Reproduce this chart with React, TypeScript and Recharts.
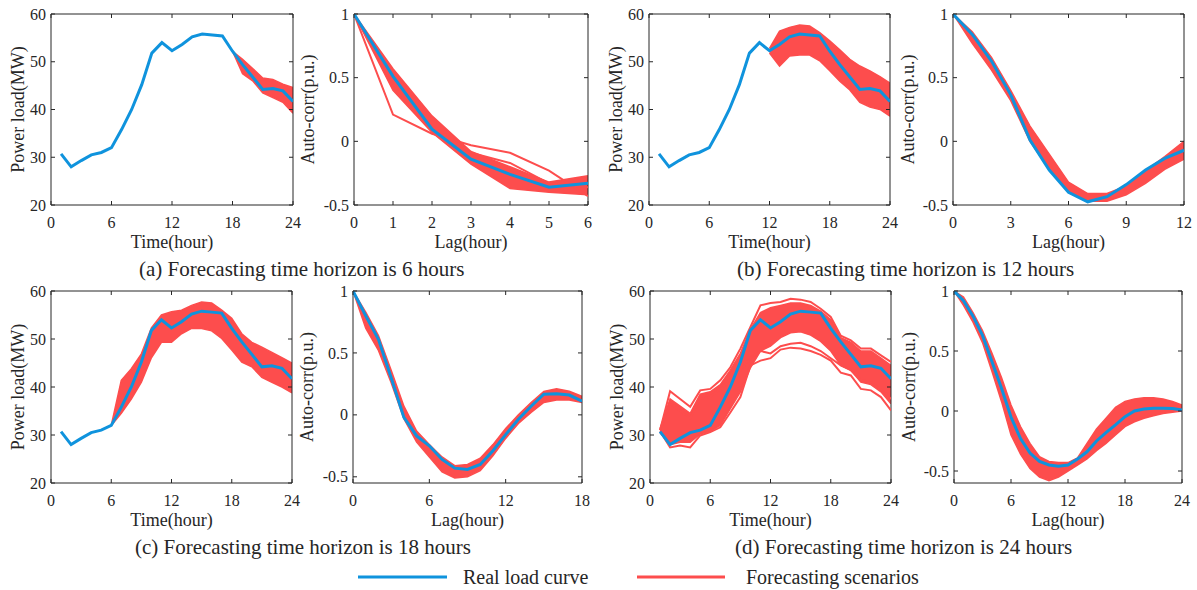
import React from "react"
import { ComposedChart, Line, Area, XAxis, YAxis, ReferenceArea } from "recharts"

const BLUE = "#0f93dd"
const RED = "#fd4d4d"
const INK = "#262626"
const FONT = '"Liberation Serif", "Times New Roman", serif'

// x values
const HOURS = [1, 2, 3, 4, 5, 6, 7, 8, 9, 10, 11, 12, 13, 14, 15, 16, 17, 18, 19, 20, 21, 22, 23, 24]
const LAGS_6 = [0, 1, 2, 3, 4, 5, 6]
const LAGS_12 = [0, 1, 2, 3, 4, 5, 6, 7, 8, 9, 10, 11, 12]
const LAGS_18 = [0, 1, 2, 3, 4, 5, 6, 7, 8, 9, 10, 11, 12, 13, 14, 15, 16, 17, 18]
const LAGS_24 = [0, 1, 2, 3, 4, 5, 6, 7, 8, 9, 10, 11, 12, 13, 14, 15, 16, 17, 18, 19, 20, 21, 22, 23, 24]

// tick labels
const TIME_TICKS = [0, 6, 12, 18, 24]
const LOAD_TICKS = [20, 30, 40, 50, 60]
const ACF_TICKS = [-0.5, 0, 0.5, 1]
const LAG_TICKS_6 = [0, 1, 2, 3, 4, 5, 6]
const LAG_TICKS_12 = [0, 3, 6, 9, 12]
const LAG_TICKS_18 = [0, 6, 12, 18]
const LAG_TICKS_24 = [0, 6, 12, 18, 24]

// real load curve (MW), hours 1..24
const REAL_LOAD = [30.7, 28.0, 29.3, 30.5, 31.0, 32.0, 35.8, 40.0, 45.2, 51.8, 54.0, 52.3, 53.6, 55.2, 55.8, 55.6, 55.4, 52.2, 49.4, 46.8, 44.2, 44.4, 43.9, 41.7]

// scenario envelopes, starting at the first forecast hour
const LOAD_LO_6 = [52.2, 47.5, 46.0, 43.5, 42.5, 41.5, 39.2] // from h18
const LOAD_HI_6 = [52.2, 50.5, 48.6, 46.6, 46.3, 45.3, 44.6]
const LOAD_LO_12 = [51.8, 49.1, 51.2, 51.4, 51.4, 50.2, 48.1, 45.9, 44.1, 41.5, 40.5, 40.0, 38.6] // from h12
const LOAD_HI_12 = [52.8, 56.4, 57.2, 57.7, 57.5, 56.1, 54.4, 52.5, 50.5, 49.1, 48.1, 46.9, 45.5]
const LOAD_LO_18 = [32.0, 34.5, 37.5, 41.0, 46.1, 49.3, 49.3, 51.1, 52.2, 52.2, 51.7, 50.1, 47.7, 45.2, 44.2, 42.0, 41.0, 40.0, 38.8] // from h6
const LOAD_HI_18 = [32.0, 41.4, 43.8, 46.9, 52.3, 55.0, 55.7, 56.0, 57.0, 57.7, 57.5, 56.0, 54.3, 51.1, 49.3, 48.3, 47.2, 46.1, 45.0]
const LOAD_LO_24 = [30.5, 28.0, 28.5, 28.5, 30.2, 30.8, 32.0, 35.5, 39.0, 44.0, 47.5, 48.5, 50.3, 51.3, 51.5, 50.8, 49.5, 47.5, 44.5, 43.5, 41.0, 40.5, 39.0, 36.5] // from h1
const LOAD_HI_24 = [31.3, 37.5, 36.0, 34.5, 38.5, 39.0, 40.5, 43.5, 47.0, 52.0, 55.5, 56.5, 57.0, 57.5, 57.5, 57.0, 55.8, 54.0, 50.3, 49.3, 47.5, 47.5, 46.0, 44.5]
// individual scenarios outside the dense band (24 h horizon)
const LOAD_OUT_24A = [31.0, 39.1, 37.5, 35.9, 39.3, 39.6, 41.4, 44.1, 48.0, 52.5, 57.0, 57.5, 57.7, 58.4, 58.2, 57.7, 56.3, 54.6, 50.7, 49.7, 48.0, 48.0, 46.6, 45.2]
const LOAD_OUT_24B = [30.8, 27.4, 27.8, 27.4, 29.9, 30.6, 31.6, 34.7, 37.9, 44.5, 45.5, 46.0, 47.8, 48.2, 48.0, 47.5, 46.7, 45.5, 43.0, 42.4, 39.6, 39.3, 37.9, 35.1]
const LOAD_OUT_24C = [31.0, 36.5, 35.0, 33.5, 37.5, 38.0, 39.5, 41.5, 43.5, 46.0, 47.5, 47.0, 48.5, 49.0, 49.2, 48.5, 47.5, 46.0, 44.5, 43.5, 41.5, 41.0, 39.5, 37.5]

// auto-correlation (p.u.)
const ACF_REAL_6 = [1, 0.51, 0.095, -0.14, -0.26, -0.36, -0.33]
const ACF_LO_6 = [1, 0.4, 0.07, -0.18, -0.37, -0.4, -0.42]
const ACF_HI_6 = [1, 0.57, 0.2, -0.08, -0.2, -0.32, -0.27]
const ACF_OUT_6A = [1, 0.21, 0.06, -0.03, -0.09, -0.23, -0.43]
const ACF_OUT_6B = [1, 0.45, 0.12, -0.09, -0.17, -0.33, -0.36]

const ACF_REAL_12 = [1, 0.84, 0.63, 0.365, 0.01, -0.225, -0.4, -0.475, -0.435, -0.34, -0.225, -0.134, -0.07]
const ACF_LO_12 = [1, 0.77, 0.56, 0.32, 0.0, -0.22, -0.4, -0.47, -0.47, -0.42, -0.33, -0.22, -0.14]
const ACF_HI_12 = [1, 0.86, 0.66, 0.4, 0.12, -0.1, -0.32, -0.41, -0.41, -0.35, -0.23, -0.12, 0.0]

const ACF_REAL_18 = [1, 0.8, 0.61, 0.3, -0.02, -0.17, -0.25, -0.36, -0.43, -0.44, -0.4, -0.29, -0.16, -0.035, 0.07, 0.167, 0.17, 0.16, 0.11]
const ACF_LO_18 = [1, 0.7, 0.52, 0.26, -0.03, -0.22, -0.34, -0.46, -0.51, -0.5, -0.45, -0.33, -0.19, -0.07, 0.02, 0.1, 0.12, 0.12, 0.1]
const ACF_HI_18 = [1, 0.83, 0.64, 0.36, 0.07, -0.13, -0.24, -0.34, -0.41, -0.4, -0.35, -0.24, -0.11, 0.0, 0.1, 0.19, 0.21, 0.19, 0.15]

const ACF_REAL_24 = [1, 0.92, 0.79, 0.63, 0.41, 0.19, -0.05, -0.23, -0.35, -0.42, -0.45, -0.46, -0.45, -0.4, -0.34, -0.25, -0.18, -0.115, -0.047, 0.0, 0.017, 0.022, 0.022, 0.02, 0.008]
const ACF_LO_24 = [1, 0.88, 0.74, 0.57, 0.33, 0.08, -0.2, -0.36, -0.48, -0.55, -0.58, -0.55, -0.5, -0.45, -0.4, -0.33, -0.27, -0.2, -0.13, -0.09, -0.06, -0.04, -0.02, -0.01, 0.0]
const ACF_HI_24 = [1, 0.95, 0.82, 0.67, 0.48, 0.28, 0.05, -0.13, -0.27, -0.38, -0.42, -0.43, -0.43, -0.39, -0.27, -0.15, -0.06, 0.03, 0.08, 0.1, 0.11, 0.11, 0.1, 0.08, 0.05]

type Row = { x: number; real: number; band?: [number, number]; [k: string]: any }

function buildRows(xs: number[], real: number[], start: number, lo: number[], hi: number[], extras: number[][] = []): Row[] {
  return xs.map((x, i) => {
    const row: Row = { x, real: real[i] }
    const j = x - start
    if (j >= 0 && j < lo.length) row.band = [lo[j], hi[j]]
    extras.forEach((s, k) => {
      if (j >= 0 && j < s.length) row["s" + k] = s[j]
    })
    return row
  })
}

const ML = 50
const MT = 10
const MR = 12
const MB = 40

interface Rect { l: number; t: number; r: number; b: number }

interface PanelProps {
  rect: Rect
  rows: Row[]
  xDomain: [number, number]
  xTicks: number[]
  yDomain: [number, number]
  yTicks: number[]
  extras?: number
}

function Panel({ rect, rows, xDomain, xTicks, yDomain, yTicks, extras = 0 }: PanelProps) {
  const pw = rect.r - rect.l
  const ph = rect.b - rect.t
  const width = pw + ML + MR
  const height = ph + MT + MB
  const top = MT
  const bottom = MT + ph
  const left = ML
  const right = ML + pw

  const xTick = (p: any) => (
    <g>
      <line x1={p.x} x2={p.x} y1={bottom} y2={bottom - 4} stroke={INK} />
      <line x1={p.x} x2={p.x} y1={top} y2={top + 4} stroke={INK} />
      <text x={p.x} y={bottom + 17} dy="0.35em" textAnchor="middle" fill={INK} fontSize={16} fontFamily={FONT}>
        {p.payload.value}
      </text>
    </g>
  )
  const yTick = (p: any) => (
    <g>
      <line x1={left} x2={left + 4} y1={p.y} y2={p.y} stroke={INK} />
      <line x1={right - 4} x2={right} y1={p.y} y2={p.y} stroke={INK} />
      <text x={left - 5} y={p.y} dy="0.35em" textAnchor="end" fill={INK} fontSize={16} fontFamily={FONT}>
        {String(p.payload.value)}
      </text>
    </g>
  )

  return (
    <div style={{ position: "absolute", left: rect.l - ML, top: rect.t - MT }}>
      <ComposedChart width={width} height={height} data={rows} margin={{ top: MT, right: MR, bottom: 0, left: 0 }}>
        <XAxis type="number" dataKey="x" domain={xDomain} ticks={xTicks} interval={0} height={MB}
          axisLine={false} tickLine={false} tick={xTick} allowDataOverflow />
        <YAxis type="number" domain={yDomain} ticks={yTicks} interval={0} width={ML}
          axisLine={false} tickLine={false} tick={yTick} allowDataOverflow />
        <Area type="linear" dataKey="band" stroke={RED} strokeWidth={1.5} fill={RED} fillOpacity={1}
          isAnimationActive={false} connectNulls={false} />
        {Array.from({ length: extras }, (_, k) => (
          <Line key={k} type="linear" dataKey={"s" + k} stroke={RED} strokeWidth={2} dot={false}
            isAnimationActive={false} />
        ))}
        <Line type="linear" dataKey="real" stroke={BLUE} strokeWidth={3} dot={false} isAnimationActive={false} />
        <ReferenceArea x1={xDomain[0]} x2={xDomain[1]} y1={yDomain[0]} y2={yDomain[1]}
          fill="none" fillOpacity={0} stroke={INK} strokeWidth={1} ifOverflow="visible" />
      </ComposedChart>
    </div>
  )
}

const ROW1 = { t: 14, b: 205 }
const ROW2 = { t: 291, b: 483 }

const P1: Rect = { l: 51, r: 293, ...ROW1 }
const P2: Rect = { l: 354, r: 588, ...ROW1 }
const P3: Rect = { l: 649, r: 890, ...ROW1 }
const P4: Rect = { l: 953, r: 1184, ...ROW1 }
const P5: Rect = { l: 51, r: 292, ...ROW2 }
const P6: Rect = { l: 353, r: 582, ...ROW2 }
const P7: Rect = { l: 650, r: 891, ...ROW2 }
const P8: Rect = { l: 954, r: 1182, ...ROW2 }

function YTitle({ rect, dx, text }: { rect: Rect; dx: number; text: string }) {
  const cx = rect.l - dx
  const cy = (rect.t + rect.b) / 2
  return (
    <text x={cx} y={cy} dy="0.35em" textAnchor="middle" transform={`rotate(-90 ${cx} ${cy})`} fontSize={18} fill={INK}>
      {text}
    </text>
  )
}

function XTitle({ rect, text }: { rect: Rect; text: string }) {
  return (
    <text x={(rect.l + rect.r) / 2} y={rect.b + 37} dy="0.35em" textAnchor="middle" fontSize={18} fill={INK}>
      {text}
    </text>
  )
}

export default function App() {
  return (
    <div style={{ position: "absolute", left: 0, top: 0, width: 1197, height: 590, background: "#fff", fontFamily: FONT }}>
      <Panel rect={P1} rows={buildRows(HOURS, REAL_LOAD, 18, LOAD_LO_6, LOAD_HI_6)}
        xDomain={[0, 24]} xTicks={TIME_TICKS} yDomain={[20, 60]} yTicks={LOAD_TICKS} />
      <Panel rect={P2} rows={buildRows(LAGS_6, ACF_REAL_6, 0, ACF_LO_6, ACF_HI_6, [ACF_OUT_6A, ACF_OUT_6B])}
        xDomain={[0, 6]} xTicks={LAG_TICKS_6} yDomain={[-0.5, 1]} yTicks={ACF_TICKS} extras={2} />
      <Panel rect={P3} rows={buildRows(HOURS, REAL_LOAD, 12, LOAD_LO_12, LOAD_HI_12)}
        xDomain={[0, 24]} xTicks={TIME_TICKS} yDomain={[20, 60]} yTicks={LOAD_TICKS} />
      <Panel rect={P4} rows={buildRows(LAGS_12, ACF_REAL_12, 0, ACF_LO_12, ACF_HI_12)}
        xDomain={[0, 12]} xTicks={LAG_TICKS_12} yDomain={[-0.5, 1]} yTicks={ACF_TICKS} />
      <Panel rect={P5} rows={buildRows(HOURS, REAL_LOAD, 6, LOAD_LO_18, LOAD_HI_18)}
        xDomain={[0, 24]} xTicks={TIME_TICKS} yDomain={[20, 60]} yTicks={LOAD_TICKS} />
      <Panel rect={P6} rows={buildRows(LAGS_18, ACF_REAL_18, 0, ACF_LO_18, ACF_HI_18)}
        xDomain={[0, 18]} xTicks={LAG_TICKS_18} yDomain={[-0.55, 1]} yTicks={ACF_TICKS} />
      <Panel rect={P7} rows={buildRows(HOURS, REAL_LOAD, 1, LOAD_LO_24, LOAD_HI_24, [LOAD_OUT_24A, LOAD_OUT_24B, LOAD_OUT_24C])}
        xDomain={[0, 24]} xTicks={TIME_TICKS} yDomain={[20, 60]} yTicks={LOAD_TICKS} extras={3} />
      <Panel rect={P8} rows={buildRows(LAGS_24, ACF_REAL_24, 0, ACF_LO_24, ACF_HI_24)}
        xDomain={[0, 24]} xTicks={LAG_TICKS_24} yDomain={[-0.6, 1]} yTicks={ACF_TICKS} />

      <svg width={1197} height={590} style={{ position: "absolute", left: 0, top: 0, pointerEvents: "none" }} fontFamily={FONT}>
        <YTitle rect={P1} dx={33} text="Power load(MW)" />
        <YTitle rect={P3} dx={33} text="Power load(MW)" />
        <YTitle rect={P5} dx={33} text="Power load(MW)" />
        <YTitle rect={P7} dx={33} text="Power load(MW)" />
        <YTitle rect={P2} dx={46} text="Auto-corr(p.u.)" />
        <YTitle rect={P4} dx={45} text="Auto-corr(p.u.)" />
        <YTitle rect={P6} dx={46} text="Auto-corr(p.u.)" />
        <YTitle rect={P8} dx={45} text="Auto-corr(p.u.)" />
        <XTitle rect={P1} text="Time(hour)" />
        <XTitle rect={P3} text="Time(hour)" />
        <XTitle rect={P5} text="Time(hour)" />
        <XTitle rect={P7} text="Time(hour)" />
        <XTitle rect={P2} text="Lag(hour)" />
        <XTitle rect={P4} text="Lag(hour)" />
        <XTitle rect={P6} text="Lag(hour)" />
        <XTitle rect={P8} text="Lag(hour)" />

        <text x={139} y={269} dy="0.35em" fontSize={21} fill={INK}>(a) Forecasting time horizon is 6 hours</text>
        <text x={737} y={269} dy="0.35em" fontSize={21} fill={INK}>(b) Forecasting time horizon is 12 hours</text>
        <text x={135} y={547} dy="0.35em" fontSize={21} fill={INK}>(c) Forecasting time horizon is 18 hours</text>
        <text x={735} y={547} dy="0.35em" fontSize={21} fill={INK}>(d) Forecasting time horizon is 24 hours</text>

        <line x1={358} x2={447} y1={577} y2={577} stroke={BLUE} strokeWidth={3} />
        <text x={463} y={577} dy="0.35em" fontSize={20} fill={INK}>Real load curve</text>
        <line x1={637} x2={725} y1={577} y2={577} stroke={RED} strokeWidth={3} />
        <text x={746} y={577} dy="0.35em" fontSize={20} fill={INK}>Forecasting scenarios</text>
      </svg>
    </div>
  )
}
